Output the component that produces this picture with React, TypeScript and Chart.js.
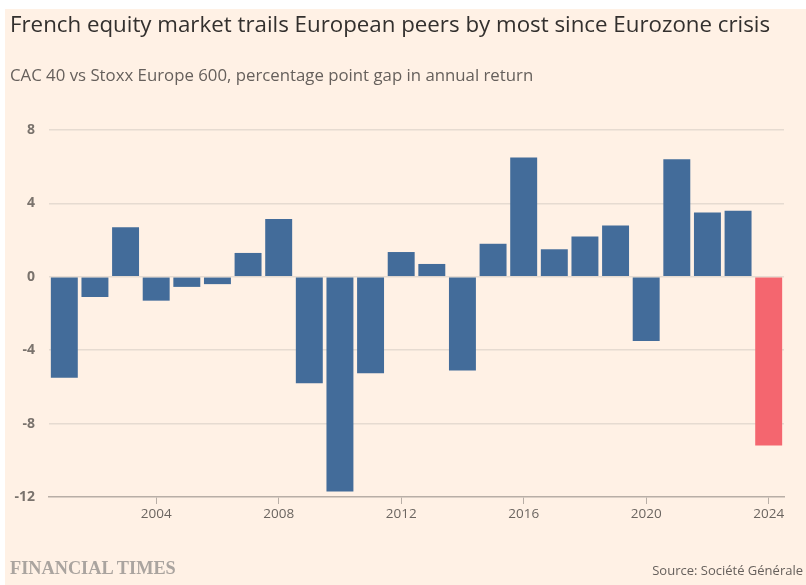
import React, { useEffect, useRef } from "react";
import { Chart, registerables } from "chart.js";

Chart.register(...registerables);

const years: string[] = [
  "2001", "2002", "2003", "2004", "2005", "2006", "2007", "2008",
  "2009", "2010", "2011", "2012", "2013", "2014", "2015", "2016",
  "2017", "2018", "2019", "2020", "2021", "2022", "2023", "2024",
];
const gapValues: number[] = [
  -5.5, -1.1, 2.7, -1.3, -0.55, -0.4, 1.3, 3.15,
  -5.8, -11.7, -5.25, 1.35, 0.7, -5.1, 1.8, 6.5,
  1.5, 2.2, 2.8, -3.5, 6.4, 3.5, 3.6, -9.2,
];
const labelledYears: string[] = ["2004", "2008", "2012", "2016", "2020", "2024"];
const yTicks: number[] = [-12, -8, -4, 0, 4, 8];

const TITLE = "French equity market trails European peers by most since Eurozone crisis";
const SUBTITLE = "CAC 40 vs Stoxx Europe 600, percentage point gap in annual return";
const SOURCE = "Source: Société Générale";

const BLUE = "#436c9a";
const RED = "#f4666f";
const CREAM = "#fff1e5";

export default function App() {
  const canvasRef = useRef<HTMLCanvasElement | null>(null);

  useEffect(() => {
    document.body.style.margin = "0";
    const canvas = canvasRef.current;
    if (!canvas) return;
    const chart = new Chart(canvas, {
      type: "bar",
      data: {
        labels: years,
        datasets: [
          {
            data: gapValues,
            backgroundColor: years.map((y) => (y === "2024" ? RED : BLUE)),
            borderWidth: 0,
            barPercentage: 0.88,
            categoryPercentage: 1,
          },
        ],
      },
      options: {
        animation: false,
        responsive: false,
        maintainAspectRatio: false,
        layout: { padding: { left: 0, right: 22, top: 130, bottom: 48 } },
        plugins: { legend: { display: false }, tooltip: { enabled: false } },
        scales: {
          x: {
            offset: true,
            border: { display: true, color: "#b8aea6", width: 1.5 },
            grid: {
              drawOnChartArea: false,
              drawTicks: true,
              tickLength: 7,
              offset: false,
              color: (ctx: any) => {
                const lbl = years[ctx.index];
                return labelledYears.includes(lbl) ? "#b8aea6" : "rgba(0,0,0,0)";
              },
            },
            ticks: {
              autoSkip: false,
              maxRotation: 0,
              color: "#6b6560",
              padding: 2,
              font: { family: "Open Sans", size: 13.5 },
              callback: (_v: any, i: number) => (labelledYears.includes(years[i]) ? years[i] : ""),
            },
            afterFit: (s: any) => {
              s.height = 40;
            },
          },
          y: {
            min: -12,
            max: 8,
            afterBuildTicks: (s: any) => {
              s.ticks = yTicks.map((v) => ({ value: v }));
            },
            border: { display: false },
            grid: {
              drawTicks: false,
              color: (ctx: any) => (ctx.tick && ctx.tick.value === -12 ? "rgba(0,0,0,0)" : "#e6dbd1"),
              lineWidth: 1.5,
            },
            ticks: {
              color: "#7a736d",
              padding: 14,
              font: { family: "Open Sans", size: 14, weight: "bold" },
            },
            afterFit: (s: any) => {
              s.width = 49;
            },
          },
        },
      },
    });
    return () => chart.destroy();
  }, []);

  return (
    <div style={{ position: "relative", width: 806, height: 585, background: "#ffffff", overflow: "hidden" }}>
      <div style={{ position: "absolute", left: 5, top: 9, right: 0, bottom: 0, background: CREAM }} />
      <canvas ref={canvasRef} width={806} height={585} style={{ position: "absolute", left: 0, top: 0 }} />
      <div
        style={{
          position: "absolute", left: 10, top: 9, fontFamily: "Open Sans", fontSize: 22.3,
          color: "#33302e", whiteSpace: "nowrap", lineHeight: "30px",
        }}
      >
        {TITLE}
      </div>
      <div
        style={{
          position: "absolute", left: 10, top: 64, fontFamily: "Open Sans", fontSize: 16.8,
          color: "#66605c", whiteSpace: "nowrap", lineHeight: "22px",
        }}
      >
        {SUBTITLE}
      </div>
      <div
        style={{
          position: "absolute", left: 10, top: 558, fontFamily: "Liberation Serif", fontSize: 18.3,
          fontWeight: "bold", color: "#aaa49f", whiteSpace: "nowrap", lineHeight: "20px",
        }}
      >
        FINANCIAL TIMES
      </div>
      <div
        style={{
          position: "absolute", right: 3, top: 562, fontFamily: "Open Sans", fontSize: 13,
          color: "#66605c", whiteSpace: "nowrap", lineHeight: "16px",
        }}
      >
        {SOURCE}
      </div>
    </div>
  );
}
